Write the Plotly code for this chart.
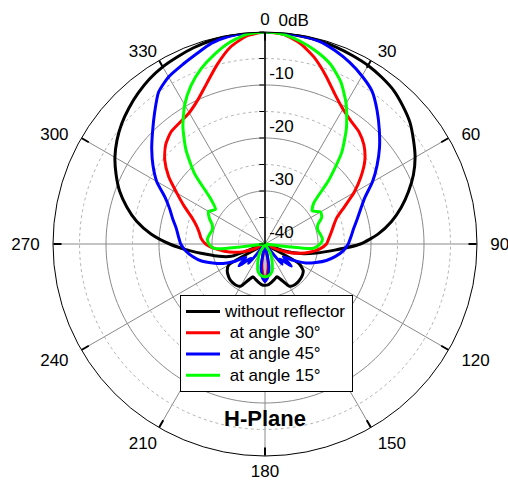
import plotly.graph_objects as go

# Angle grid (degrees, clockwise from top)
THETA = list(range(0, 360, 5))

# Normalized gain in dB (0..355 deg, 5 deg step)
black_db = [
    0, -0.1, -0.2, -0.3, -0.5, -0.8, -1.1, -1.6, -2.2, -3.2, -4.3, -5.8,
    -7.3, -9.1, -11.2, -13.4, -15.8, -18.6, -22.0, -26.8, -30.2, -33.0, -36.5, -40,
    -32.6, -31.2, -30.8, -30.6, -30.5, -30.5, -30.8, -32.4, -33.4, -33.1, -32.7, -32.3,
    -32.2,
    -32.3, -32.7, -33.1, -33.4, -32.4, -30.8, -30.5, -30.5, -30.6, -30.9, -31.3, -32.1,
    -40, -33.2, -31.0, -28.8, -25.7, -22.0, -18.4, -15.4, -13.0, -10.8, -9.0, -7.3,
    -5.9, -4.7, -3.7, -2.8, -2.0, -1.4, -1.0, -0.6, -0.3, -0.15, -0.05,
]
red_db = [
    0, -0.3, -1.6, -3.7, -6.3, -8.8, -10.6, -11.7, -12.4, -13.6, -15.4, -17.9,
    -20.6, -23.5, -25.6, -26.6, -27.3, -27.9, -28.4, -29.6, -31.3, -33.2, -35.5, -38.5,
    -40, -40, -40, -40, -40, -40, -40, -40, -40, -40, -37.0, -34.6,
    -33.0,
    -34.6, -37.0, -40, -40, -40, -40, -40, -40, -40, -40, -40, -40,
    -38.0, -35.8, -34.0, -32.2, -30.4, -28.8, -27.9, -27.4, -26.6, -25.3, -23.2, -20.8,
    -17.8, -15.3, -13.5, -12.4, -12.0, -11.4, -10.0, -7.8, -5.0, -2.3, -0.6,
]
blue_db = [
    0, -0.05, -0.15, -0.4, -1.2, -2.2, -3.4, -4.8, -7.1, -9.5, -11.8, -14.2,
    -16.6, -19.2, -20.8, -22.0, -23.0, -23.7, -24.3, -25.2, -26.5, -28.0, -29.8, -31.5,
    -33.8, -35.8, -33.5, -36.0, -35.0, -40, -40, -40, -40, -40, -35.8, -33.8,
    -32.9,
    -33.8, -35.8, -40, -40, -40, -40, -40, -35.2, -36.2, -33.6, -35.6, -33.5,
    -31.3, -29.5, -27.6, -26.2, -25.0, -24.1, -23.6, -23.0, -22.0, -20.9, -19.2, -16.4,
    -14.2, -12.1, -10.0, -7.6, -5.0, -3.6, -2.8, -1.9, -0.8, -0.25, -0.05,
]
green_db = [
    0, -0.3, -1.2, -2.4, -3.9, -6.2, -9.4, -13.2, -17.5, -23.0, -28.0, -29.1,
    -27.9, -28.2, -29.4, -29.7, -29.4, -29.1, -29.6, -30.8, -40, -40, -40, -40,
    -40, -40, -40, -40, -40, -40, -38.0, -37.0, -36.0, -34.8, -34.2, -33.9,
    -33.8,
    -33.9, -34.2, -34.8, -36.0, -37.0, -38.0, -40, -40, -40, -40, -40, -40,
    -40, -40, -40, -40, -30.4, -29.4, -29.1, -29.4, -29.7, -29.4, -28.4, -27.7,
    -28.6, -26.5, -21.2, -16.8, -13.0, -9.7, -7.0, -4.8, -3.0, -1.4, -0.3,
]

SERIES_NAMES = ["without reflector", "\u00a0at angle 30°", "\u00a0at angle 45°", "\u00a0at angle 15°"]
SERIES_COLORS = ["#000000", "#ff0000", "#0000ff", "#00ff00"]

NB = "\u00a0"
ANGLE_TICKS = list(range(0, 360, 30))
ANGLE_TEXT = ["0", NB + "30", NB * 2 + "60", NB * 2 + "90", NB * 2 + "120", NB + "150",
              "180", "210", "240" + NB * 2, "270" + NB * 2, "300" + NB * 2, "330"]
RADIAL_TICKS = [-40, -35, -30, -25, -20, -15, -10, -5, 0]
RADIAL_TEXT = ["-40<br>" + NB, "", "-30<br>" + NB, "", "-20<br>" + NB, "",
               "-10<br>" + NB, "", NB * 2 + "0dB<br>" + NB]
SOLID_GRID = [-10, -20, -30]
DOTTED_GRID = [-5, -15, -25, -35]
CIRCLE_THETA = list(range(0, 361, 2))

FONT = "Arial, Liberation Sans, sans-serif"

fig = go.Figure()

for lvl in DOTTED_GRID:
    fig.add_trace(go.Scatterpolar(
        r=[lvl] * len(CIRCLE_THETA), theta=CIRCLE_THETA, mode="lines",
        line=dict(color="#b4b4b4", width=1, dash="dot"),
        showlegend=False, hoverinfo="skip"))
for lvl in SOLID_GRID:
    fig.add_trace(go.Scatterpolar(
        r=[lvl] * len(CIRCLE_THETA), theta=CIRCLE_THETA, mode="lines",
        line=dict(color="#8a8a8a", width=1),
        showlegend=False, hoverinfo="skip"))

for name, color, vals in zip(SERIES_NAMES, SERIES_COLORS, [black_db, red_db, blue_db, green_db]):
    fig.add_trace(go.Scatterpolar(
        r=vals + vals[:1], theta=THETA + [360], mode="lines",
        name='<span style="font-size:17px">' + name + "</span>",
        line=dict(color=color, width=3, shape="spline", smoothing=0.6)))

fig.update_layout(
    width=508, height=482,
    margin=dict(l=53, r=31, t=32, b=26),
    paper_bgcolor="white",
    font=dict(family=FONT, size=17, color="black"),
    polar=dict(
        domain=dict(x=[0, 1], y=[0, 1]),
        bgcolor="white",
        angularaxis=dict(
            direction="clockwise", rotation=90,
            tickmode="array", tickvals=ANGLE_TICKS, ticktext=ANGLE_TEXT,
            ticks="inside", ticklen=8, tickcolor="black", tickwidth=1.5,
            showline=True, linecolor="black", linewidth=1,
            showgrid=True, gridcolor="#8a8a8a", gridwidth=1,
            tickfont=dict(family=FONT, size=17, color="black"),
        ),
        radialaxis=dict(
            range=[-40, 0], angle=90, side="clockwise", tickangle=90,
            tickmode="array", tickvals=RADIAL_TICKS, ticktext=RADIAL_TEXT,
            ticks="inside", ticklen=5, tickcolor="black",
            showline=True, linecolor="black", linewidth=1.5,
            showgrid=False,
            tickfont=dict(family=FONT, size=17, color="black"),
        ),
    ),
    legend=dict(
        x=(180 - 53) / 424, y=1 - (295 - 32) / 424, xanchor="left", yanchor="top",
        bgcolor="white", bordercolor="black", borderwidth=1,
        font=dict(family=FONT, size=14, color="black"),
        tracegroupgap=0, itemwidth=34,
    ),
    annotations=[dict(
        text="<b>H-Plane</b>", x=0.5, y=1 - (418 - 32) / 424, xref="paper", yref="paper",
        xanchor="center", yanchor="middle", showarrow=False,
        font=dict(family=FONT, size=22, color="black"),
    )],
)

fig.write_html("out.html")
